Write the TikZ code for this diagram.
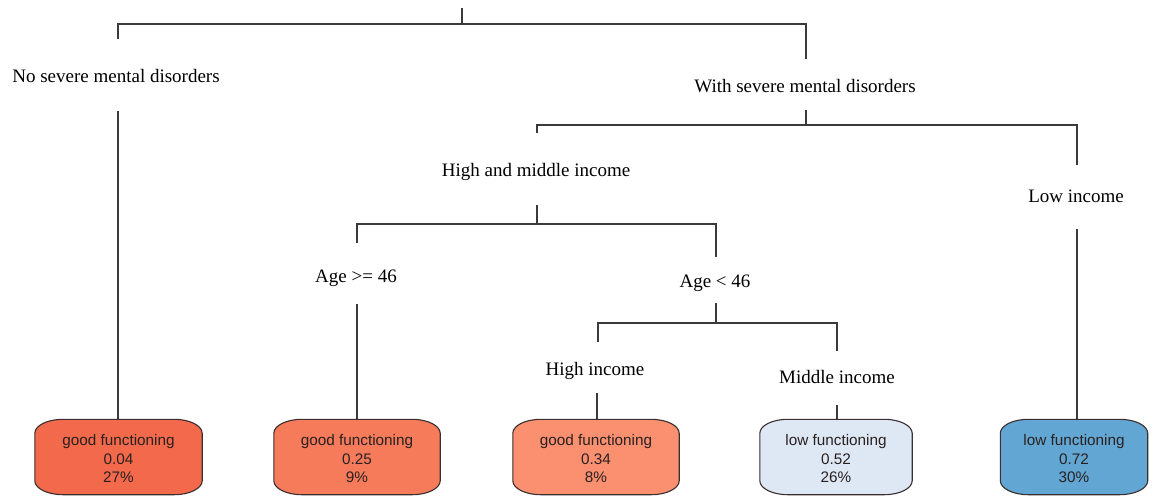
\documentclass[tikz,border=0pt]{standalone}
\usepackage{fontspec}
\setmainfont{Liberation Serif}
\newfontfamily\leaffont{Liberation Sans}
\usetikzlibrary{calc}
\pgfdeclarelayer{background}
\pgfsetlayers{background,main}
\definecolor{linec}{HTML}{3A3A3A}
\definecolor{boxline}{HTML}{3A2E2E}
\definecolor{leaftext}{HTML}{2A2020}
\definecolor{fillA}{HTML}{F26A4B}
\definecolor{fillB}{HTML}{F57B5B}
\definecolor{fillC}{HTML}{FA9070}
\definecolor{fillD}{HTML}{DDE8F4}
\definecolor{fillE}{HTML}{62A7D3}
\tikzset{
  conn/.style={draw=linec, line width=1.2pt},
  lab/.style={anchor=base, inner sep=0pt, font=\fontsize{19}{22}\selectfont},
  leaf/.style={minimum width=#1, minimum height=75pt, inner sep=0pt,
    font=\leaffont\fontsize{15.3}{18.7}\selectfont, text=leaftext},
  leafline/.style={draw=boxline, line width=1.1pt}
}
\newcommand\leaftxt[3]{\raisebox{-3.5pt}[\height][\depth]{\begin{tabular}{@{}c@{}}#1\\#2\\#3\end{tabular}}}
\newcommand\leafshape[2]{%
  \begin{pgfonlayer}{background}
  \path[leafline, fill=#2]
    ([xshift=28pt]#1.north west) -- ([xshift=-28pt]#1.north east)
    .. controls ([xshift=-12.5pt]#1.north east) and ([yshift=-6.3pt]#1.north east) .. ([yshift=-14pt]#1.north east)
    -- ([yshift=14pt]#1.south east)
    .. controls ([yshift=6.3pt]#1.south east) and ([xshift=-12.5pt]#1.south east) .. ([xshift=-28pt]#1.south east)
    -- ([xshift=28pt]#1.south west)
    .. controls ([xshift=12.5pt]#1.south west) and ([yshift=6.3pt]#1.south west) .. ([yshift=14pt]#1.south west)
    -- ([yshift=-14pt]#1.north west)
    .. controls ([yshift=-6.3pt]#1.north west) and ([xshift=12.5pt]#1.north west) .. cycle;
  \end{pgfonlayer}}
\begin{document}
\begin{tikzpicture}[x=1pt,y=-1pt]
\useasboundingbox (0,0) rectangle (1154,496);

% labels
\node[lab] (nsm) at (116,82) {No severe mental disorders};
\node[lab] (wsm) at (805,92) {With severe mental disorders};
\node[lab] (hmi) at (536,176) {High and middle income};
\node[lab] (lowi) at (1076,202) {Low income};
\node[lab] (age1) at (356,282) {Age >= 46};
\node[lab] (age2) at (715,287) {Age < 46};
\node[lab] (hi) at (595,375) {High income};
\node[lab] (mi) at (837,383) {Middle income};

% leaves
\node[leaf=167pt] (L1) at (118.5,457) {\leaftxt{good functioning}{0.04}{27\%}};
\node[leaf=166pt] (L2) at (357,457) {\leaftxt{good functioning}{0.25}{9\%}};
\node[leaf=166pt] (L3) at (596,457) {\leaftxt{good functioning}{0.34}{8\%}};
\node[leaf=152pt] (L4) at (836,457) {\leaftxt{low functioning}{0.52}{26\%}};
\node[leaf=147pt] (L5) at (1074,457) {\leaftxt{low functioning}{0.72}{30\%}};
\leafshape{L1}{fillA}
\leafshape{L2}{fillB}
\leafshape{L3}{fillC}
\leafshape{L4}{fillD}
\leafshape{L5}{fillE}

% connector coordinates
\coordinate (root) at (462,8);
\coordinate (b1) at (462,24);
\coordinate (nsmIn) at (118,39);
\coordinate (wsmIn) at (806,59);
\coordinate (nsmOut) at (118,111);
\coordinate (wsmOut) at (806,110);
\coordinate (b2) at (806,125);
\coordinate (hmiIn) at (537,133);
\coordinate (lowIn) at (1077,165);
\coordinate (hmiOut) at (537,205);
\coordinate (b3) at (537,224);
\coordinate (lowOut) at (1077,229);
\coordinate (age1In) at (357,243);
\coordinate (age2In) at (716,257);
\coordinate (age1Out) at (357,304);
\coordinate (age2Out) at (716,303);
\coordinate (b4) at (716,323);
\coordinate (hiIn) at (598,342);
\coordinate (miIn) at (837,351);
\coordinate (hiOut) at (597,393);
\coordinate (miOut) at (837,405);

% connectors
\draw[conn] (root) -- (b1);
\draw[conn] (nsmIn) |- (b1) -| (wsmIn);
\draw[conn] (nsmOut) -- (nsmOut |- L1.north);
\draw[conn] (wsmOut) -- (b2);
\draw[conn] (hmiIn) |- (b2) -| (lowIn);
\draw[conn] (lowOut) -- (lowOut |- L5.north);
\draw[conn] (hmiOut) -- (b3);
\draw[conn] (age1In) |- (b3) -| (age2In);
\draw[conn] (age1Out) -- (age1Out |- L2.north);
\draw[conn] (age2Out) -- (b4);
\draw[conn] (hiIn) |- (b4) -| (miIn);
\draw[conn] (hiOut) -- (hiOut |- L3.north);
\draw[conn] (miOut) -- (miOut |- L4.north);
\end{tikzpicture}
\end{document}
